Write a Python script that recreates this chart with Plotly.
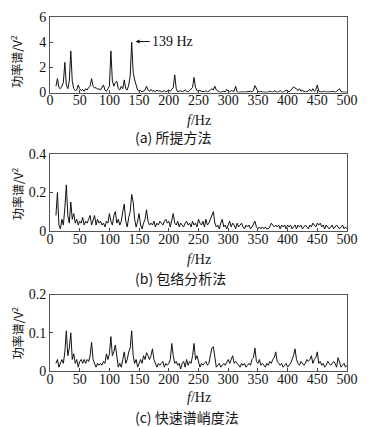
import numpy as np
import plotly.graph_objects as go
from plotly.subplots import make_subplots

# frequency grid (Hz), 2.5 Hz step from 10 to 500
freq = np.arange(10, 500.01, 2.5)

# (a) proposed method, power spectrum V^2
spec_a = [
    0.5, 1.1, 0.4, 0.3, 0.5, 0.8, 2.4, 0.6, 0.3, 0.9,
    3.3, 0.9, 0.3, 0.15, 0.2, 0.6, 0.3, 0.15, 0.25, 0.1,
    0.3, 0.2, 0.4, 0.5, 1.1, 0.5, 0.35, 0.4, 0.25, 0.3,
    0.2, 0.4, 0.6, 0.2, 0.1, 0.3, 0.5, 3.3, 0.9, 0.5,
    0.8, 0.9, 0.3, 0.2, 0.5, 0.3, 1.0, 0.3, 0.2, 0.6,
    1.3, 4.0, 1.6, 1.0, 0.6, 0.2, 0.1, 0.15, 0.05, 0.1,
    0.2, 0.5, 0.2, 0.1, 0.25, 0.1, 0.15, 0.05, 0.2, 0.1,
    0.15, 0.05, 0.1, 0.15, 0.05, 0.1, 0.2, 0.1, 0.3, 0.4,
    1.4, 0.3, 0.05, 0.1, 0.15, 0.05, 0.1, 0.2, 0.1, 0.05,
    0.15, 0.3, 0.4, 1.2, 0.4, 0.15, 0.1, 0.2, 0.05, 0.1,
    0.05, 0.15, 0.05, 0.1, 0.2, 0.3, 0.2, 0.5, 0.2, 0.1,
    0.05, 0.02, 0.05, 0.1, 0.05, 0.25, 0.1, 0.05, 0.15, 0.1,
    0.1, 0.5, 0.05, 0.02, 0.05, 0.02, 0.05, 0.03, 0.05, 0.02,
    0.05, 0.1, 0.05, 0.15, 0.55, 0.25, 0.1, 0.05, 0.1, 0.05,
    0.02, 0.05, 0.02, 0.05, 0.1, 0.05, 0.02, 0.15, 0.05, 0.02,
    0.05, 0.15, 0.05, 0.02, 0.1, 0.2, 0.1, 0.05, 0.15, 0.3,
    0.45, 0.35, 0.3, 0.15, 0.3, 0.1, 0.2, 0.05, 0.1, 0.05,
    0.15, 0.25, 0.1, 0.3, 0.1, 0.2, 0.6, 0.1, 0.05, 0.02,
    0.05, 0.1, 0.02, 0.05, 0.02, 0.05, 0.1, 0.05, 0.02, 0.1,
    0.2, 0.3, 0.05, 0.02, 0.05, 0.02, 0.05,
]

# (b) envelope analysis
spec_b = [
    0.08, 0.2, 0.03, 0.01, 0.06, 0.03, 0.12, 0.24, 0.08, 0.04,
    0.15, 0.06, 0.09, 0.04, 0.06, 0.03, 0.05, 0.04, 0.07, 0.03,
    0.05, 0.04, 0.06, 0.08, 0.03, 0.05, 0.08, 0.03, 0.06, 0.04,
    0.05, 0.03, 0.04, 0.02, 0.05, 0.04, 0.09, 0.05, 0.03, 0.08,
    0.1, 0.04, 0.06, 0.03, 0.05, 0.1, 0.14, 0.05, 0.02, 0.07,
    0.1, 0.19, 0.15, 0.06, 0.02, 0.05, 0.09, 0.03, 0.01, 0.04,
    0.06, 0.11, 0.05, 0.03, 0.04, 0.03, 0.05, 0.02, 0.04, 0.03,
    0.05, 0.04, 0.03, 0.05, 0.06, 0.04, 0.05, 0.02, 0.05, 0.09,
    0.04, 0.03, 0.05, 0.02, 0.04, 0.03, 0.02, 0.04, 0.05, 0.03,
    0.04, 0.02, 0.05, 0.03, 0.04, 0.02, 0.06, 0.04, 0.03, 0.05,
    0.02, 0.06, 0.03, 0.04, 0.06, 0.08, 0.1, 0.04, 0.02, 0.03,
    0.01, 0.04, 0.06, 0.02, 0.03, 0.01, 0.03, 0.05, 0.02, 0.04,
    0.03, 0.01, 0.04, 0.02, 0.03, 0.04, 0.02, 0.01, 0.03, 0.02,
    0.03, 0.01, 0.02, 0.04, 0.05, 0.02, 0.01, 0.02, 0.01, 0.02,
    0.01, 0.02, 0.01, 0.01, 0.02, 0.04, 0.03, 0.02, 0.03, 0.02,
    0.03, 0.01, 0.03, 0.02, 0.03, 0.01, 0.03, 0.02, 0.03, 0.01,
    0.02, 0.03, 0.01, 0.03, 0.02, 0.03, 0.01, 0.02, 0.03, 0.02,
    0.01, 0.03, 0.02, 0.04, 0.03, 0.02, 0.04, 0.03, 0.04, 0.02,
    0.03, 0.01, 0.03, 0.02, 0.01, 0.02, 0.03, 0.01, 0.02, 0.03,
    0.02, 0.01, 0.02, 0.03, 0.01, 0.02, 0.01,
]

# (c) fast kurtogram
spec_c = [
    0.02, 0.03, 0.01, 0.02, 0.03, 0.02, 0.05, 0.105, 0.04, 0.06,
    0.1, 0.03, 0.045, 0.02, 0.03, 0.01, 0.025, 0.03, 0.02, 0.03,
    0.02, 0.03, 0.025, 0.04, 0.075, 0.03, 0.02, 0.01, 0.02, 0.015,
    0.02, 0.015, 0.025, 0.02, 0.045, 0.03, 0.045, 0.09, 0.04, 0.05,
    0.068, 0.03, 0.01, 0.02, 0.01, 0.03, 0.05, 0.02, 0.03, 0.05,
    0.06, 0.105, 0.04, 0.02, 0.03, 0.01, 0.02, 0.03, 0.02, 0.04,
    0.03, 0.048, 0.04, 0.03, 0.04, 0.058, 0.03, 0.02, 0.01, 0.02,
    0.015, 0.02, 0.025, 0.01, 0.02, 0.015, 0.02, 0.03, 0.072, 0.04,
    0.02, 0.025, 0.015, 0.02, 0.005, 0.02, 0.025, 0.01, 0.03, 0.015,
    0.025, 0.02, 0.04, 0.072, 0.03, 0.04, 0.02, 0.01, 0.02, 0.015,
    0.02, 0.025, 0.015, 0.02, 0.04, 0.06, 0.063, 0.03, 0.01, 0.015,
    0.02, 0.01, 0.015, 0.02, 0.015, 0.025, 0.03, 0.02, 0.03, 0.04,
    0.02, 0.025, 0.02, 0.015, 0.01, 0.02, 0.015, 0.02, 0.01, 0.015,
    0.02, 0.015, 0.03, 0.035, 0.06, 0.025, 0.02, 0.03, 0.015, 0.02,
    0.015, 0.01, 0.02, 0.015, 0.025, 0.02, 0.03, 0.035, 0.05, 0.025,
    0.02, 0.015, 0.02, 0.01, 0.015, 0.02, 0.01, 0.015, 0.02, 0.03,
    0.04, 0.058, 0.03, 0.02, 0.015, 0.025, 0.02, 0.015, 0.02, 0.03,
    0.025, 0.03, 0.04, 0.02, 0.03, 0.035, 0.05, 0.02, 0.025, 0.015,
    0.02, 0.01, 0.015, 0.025, 0.02, 0.015, 0.02, 0.025, 0.02, 0.01,
    0.035, 0.02, 0.01, 0.015, 0.02, 0.01, 0.015,
]

y_ranges = [[0, 6], [0, 0.4], [0, 0.2]]
y_ticks = [[0, 2, 4, 6], [0, 0.2, 0.4], [0, 0.1, 0.2]]
y_ticktext = [["0", "2", "4", "6"], ["0", "0.2", "0.4"], ["0", "0.1", "0.2"]]
x_ticks = list(range(0, 501, 50))
captions = ["(a) 所提方法", "(b) 包络分析法", "(c) 快速谱峭度法"]
ytitle = "功率谱/V<sup>2</sup>"
peak_label = "139 Hz"
peak_f, peak_v = 139, 4.0

W, H = 368, 427
ml, mr, mt, mb = 50, 16, 10, 56
ph = H - mt - mb

def py(pix):
    return (H - mb - pix) / ph

def px(pix):
    return (pix - ml) / (W - ml - mr)

domains = [[py(87), py(10)], [py(228), py(150)], [py(371), py(293)]]

fig = make_subplots(rows=3, cols=1)
serif = "Liberation Serif"
for i, s in enumerate([spec_a, spec_b, spec_c]):
    fig.add_trace(go.Scatter(x=freq, y=s, mode="lines",
                             line=dict(color="#111111", width=1),
                             showlegend=False, hoverinfo="skip"), row=i + 1, col=1)
    ax = "xaxis" if i == 0 else f"xaxis{i+1}"
    ay = "yaxis" if i == 0 else f"yaxis{i+1}"
    fig.layout[ax].update(range=[0, 500], tickvals=x_ticks, ticks="inside", ticklen=3,
                          showline=True, mirror=True, linecolor="#555555", linewidth=1,
                          showgrid=False, zeroline=False, ticklabelstandoff=-5,
                          tickfont=dict(family=serif, size=14, color="#111"))
    fig.layout[ay].update(range=y_ranges[i], tickvals=y_ticks[i], ticktext=y_ticktext[i],
                          domain=domains[i], ticks="inside", ticklen=3,
                          showline=True, mirror=True, linecolor="#555555", linewidth=1,
                          showgrid=False, zeroline=False,
                          tickfont=dict(family=serif, size=14, color="#111"))

xlab_pix = [116, 257, 398]
cap_pix = [132, 276, 418]
ytitle_pix = [55, 190, 332]
anns = []
for i in range(3):
    anns.append(dict(text="<i>f</i>/Hz", x=0.5, y=py(xlab_pix[i]), xref="paper", yref="paper",
                     xanchor="center", yanchor="middle", showarrow=False,
                     font=dict(family=serif, size=14, color="#111")))
    anns.append(dict(text=captions[i], x=px(134), y=py(cap_pix[i]), xref="paper", yref="paper",
                     xanchor="left", yanchor="middle", showarrow=False,
                     font=dict(family="Noto Sans CJK SC", size=14, color="#111")))
    anns.append(dict(text=ytitle, x=px(16), y=py(ytitle_pix[i]), xref="paper", yref="paper",
                     xanchor="center", yanchor="middle", textangle=-90, showarrow=False,
                     font=dict(family="Noto Sans CJK SC", size=12, color="#111")))
anns.append(dict(text=peak_label, x=peak_f + 5, y=peak_v + 0.05, xref="x", yref="y",
                 axref="x", ayref="y", ax=peak_f + 29, ay=peak_v + 0.05, xanchor="left",
                 showarrow=True, arrowhead=2, arrowsize=0.8,
                 arrowwidth=1, arrowcolor="#111", standoff=0,
                 font=dict(family=serif, size=14, color="#111")))
fig.update_layout(width=W, height=H, margin=dict(l=ml, r=mr, t=mt, b=mb),
                  plot_bgcolor="white", paper_bgcolor="white", annotations=anns,
                  hovermode=False)
fig.write_html("out.html", config={"displayModeBar": False},
               post_script="document.body.style.margin='0';document.body.style.overflow='hidden';")
